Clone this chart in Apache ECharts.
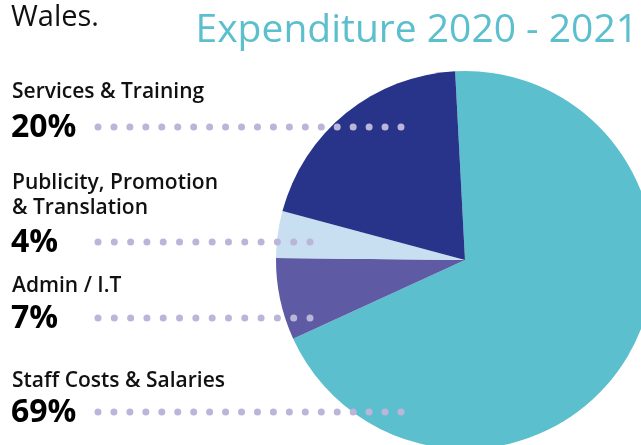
<!DOCTYPE html>
<html>
<head>
<meta charset="utf-8">
<script src="https://cdn.jsdelivr.net/npm/echarts@6/dist/echarts.min.js"></script>
<style>
    html, body { margin: 0; padding: 0; background: #fff; }
    #chart { width: 641px; height: 445px; }
</style>
</head>
<body>
<div id="chart"></div>
<script>
    // pie slices, in drawing order (clockwise from the top)
    var categories = ['Staff Costs & Salaries', 'Admin / I.T', 'Publicity, Promotion\n& Translation', 'Services & Training'];
    var values = [69, 7, 4, 20];
    var colors = ['#5bbfcd', '#5e5ba4', '#c7dff0', '#28338a'];

    // left hand labels, top to bottom
    var labelOrder = [3, 2, 1, 0];
    var labelY = [92, 196, 286, 381];
    var pctY = [127, 242, 318, 412];
    var dotEnd = [401, 310, 310, 401];

    var chart = echarts.init(document.getElementById('chart'));
    var font = '"Open Sans", "Noto Sans", sans-serif';

    var graphics = [
        {
            type: 'text', x: 11, y: 18,
            style: {text: 'Wales.', fill: '#111', font: '29px ' + font, verticalAlign: 'middle'}
        },
        {
            type: 'text', x: 638, y: 31,
            style: {
                text: 'Expenditure 2020 - 2021', fill: '#5bbfcd', font: '39px ' + font,
                align: 'right', verticalAlign: 'middle'
            }
        }
    ];

    labelOrder.forEach(function (idx, i) {
        // dotted leader line
        var len = dotEnd[i] - 98;
        var gap = len / Math.round(len / 16.2);
        graphics.push({
            type: 'line', z: 10,
            shape: {x1: 98, y1: pctY[i], x2: dotEnd[i] + 1, y2: pctY[i]},
            style: {stroke: '#bcb5da', lineWidth: 7, lineCap: 'round', lineDash: [0.01, gap - 0.01]}
        });
        graphics.push({
            type: 'text', x: 12, y: labelY[i],
            style: {
                text: categories[idx], fill: '#111', font: '600 21px ' + font,
                verticalAlign: 'middle', lineHeight: 25
            }
        });
        graphics.push({
            type: 'text', x: 11, y: pctY[i] + 1,
            style: {
                text: values[idx] + '%', fill: '#000', font: 'bold 32px ' + font,
                verticalAlign: 'middle'
            }
        });
    });

    var option = {
        animation: false,
        series: [{
            type: 'pie',
            center: [465, 260],
            radius: 189,
            startAngle: 93,
            clockwise: true,
            label: {show: false},
            labelLine: {show: false},
            emphasis: {disabled: true},
            itemStyle: {borderWidth: 0},
            data: categories.map(function (c, i) {
                return {name: c, value: values[i], itemStyle: {color: colors[i]}};
            })
        }],
        graphic: graphics
    };
    chart.setOption(option);
</script>
</body>
</html>
